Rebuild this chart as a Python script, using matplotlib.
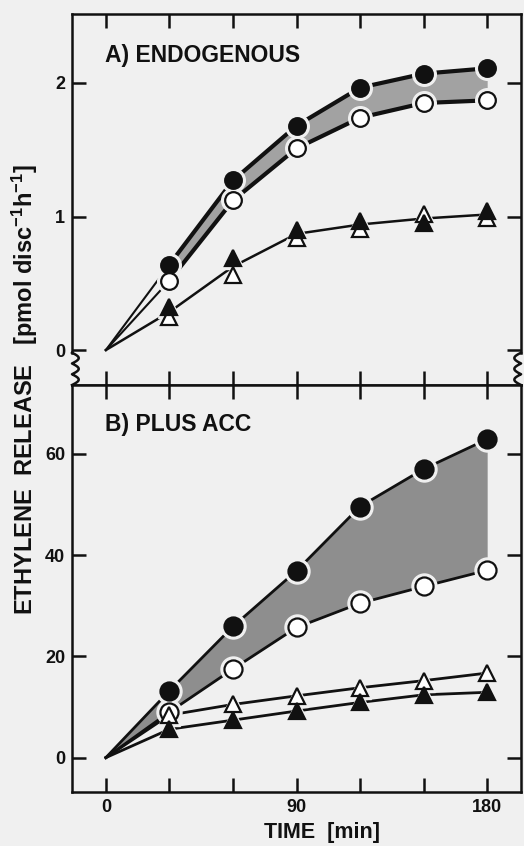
import numpy as np
import matplotlib.pyplot as plt

plt.rcParams['font.family'] = ['Liberation Sans', 'DejaVu Sans']
plt.rcParams['font.weight'] = 'bold'
plt.rcParams['mathtext.fontset'] = 'custom'
plt.rcParams['mathtext.rm'] = 'Liberation Sans:bold'
plt.rcParams['mathtext.default'] = 'rm'

t = [0, 30, 60, 90, 120, 150, 180]
a_fill_circ = [0, 0.64, 1.27, 1.68, 1.965, 2.07, 2.11]
a_open_circ = [0, 0.52, 1.12, 1.51, 1.74, 1.85, 1.87]
a_fill_tri = [0, 0.32, 0.69, 0.90, 0.97, 0.95, 1.04]
a_open_tri = [0, 0.25, 0.56, 0.84, 0.91, 1.02, 0.99]
b_fill_circ = [0, 13.2, 25.9, 36.9, 49.6, 57.0, 62.9]
b_open_circ = [0, 9.0, 17.5, 25.7, 30.5, 33.8, 37.0]
b_open_tri = [0, 8.4, 10.5, 12.2, 13.8, 15.2, 16.7]
b_fill_tri = [0, 5.6, 7.4, 9.2, 10.9, 12.4, 12.9]

bg = '#f0f0f0'
fig = plt.figure(figsize=(5.24, 8.46), dpi=100, facecolor=bg)
ax_a = fig.add_axes([0.1374, 0.5449, 0.857, 0.4386], facecolor=bg)
ax_b = fig.add_axes([0.1374, 0.0638, 0.857, 0.4811], facecolor=bg)


def markers(ax, y, marker, filled, ms):
    ax.plot(t[1:], y[1:], ls='none', marker=marker, ms=ms + 5, mfc=bg, mec=bg, zorder=3)
    ax.plot(t[1:], y[1:], ls='none', marker=marker, ms=ms,
            mfc='#111111' if filled else 'white', mec='#111111', mew=1.6, zorder=4)


# A) endogen
ax_a.fill_between(t[1:], a_open_circ[1:], a_fill_circ[1:], color='#a2a2a2', lw=0, zorder=1)
ax_a.plot(t[:2], a_fill_circ[:2], color='#111111', lw=1.5, zorder=2)
ax_a.plot(t[:2], a_open_circ[:2], color='#111111', lw=1.5, zorder=2)
ax_a.plot(t[1:], a_fill_circ[1:], color='#111111', lw=3, zorder=2)
ax_a.plot(t[1:], a_open_circ[1:], color='#111111', lw=3, zorder=2)
tri_mean = (np.array(a_fill_tri) + np.array(a_open_tri)) / 2
ax_a.plot(t, tri_mean, color='#111111', lw=1.8, zorder=2)
markers(ax_a, a_fill_circ, 'o', True, 12)
markers(ax_a, a_open_circ, 'o', False, 12)
markers(ax_a, a_open_tri, '^', False, 11)
markers(ax_a, a_fill_tri, '^', True, 11)

# B) mit ACC
ax_b.fill_between(t, b_open_circ, b_fill_circ, color='#8e8e8e', lw=0, zorder=1)
for y in [b_fill_circ, b_open_circ, b_open_tri, b_fill_tri]:
    ax_b.plot(t, y, color='#111111', lw=2, zorder=2)
markers(ax_b, b_fill_circ, 'o', True, 13)
markers(ax_b, b_open_circ, 'o', False, 13)
markers(ax_b, b_open_tri, '^', False, 11)
markers(ax_b, b_fill_tri, '^', True, 11)

ax_a.set_xlim(-16, 196)
ax_b.set_xlim(-16, 196)
ax_a.set_ylim(-0.262, 2.517)
ax_b.set_ylim(-6.8, 73.6)
ax_a.set_yticks([0, 1, 2])
ax_b.set_yticks([0, 20, 40, 60])
for ax in [ax_a, ax_b]:
    ax.set_xticks([0, 90, 180])
    ax.set_xticks([30, 60, 120, 150], minor=True)
    ax.tick_params(which='both', direction='in', length=10, width=1.8,
                   top=True, right=True, labelsize=13, pad=5, colors='#111111')
    for s in ax.spines.values():
        s.set_linewidth(1.8)
        s.set_color('#111111')
ax_a.tick_params(labelbottom=False)

# Achsenbruch an Panel A
ax_a.spines['left'].set_bounds(-0.02, 2.517)
ax_a.spines['right'].set_bounds(-0.02, 2.517)
yy = np.linspace(-0.02, -0.262, 40)
wig = 0.015 * np.sin(np.linspace(0, 3 * np.pi, 40))
ax_a.plot(np.abs(wig), yy, color='#111111', lw=1.8, transform=ax_a.get_yaxis_transform(), clip_on=False)
ax_a.plot(1 - np.abs(wig), yy, color='#111111', lw=1.8, transform=ax_a.get_yaxis_transform(), clip_on=False)

ax_a.text(0.0735, 0.889, 'A) ENDOGENOUS', transform=ax_a.transAxes, fontsize=16.5, va='center', color='#111111')
ax_b.text(0.0735, 0.902, 'B) PLUS ACC', transform=ax_b.transAxes, fontsize=16.5, va='center', color='#111111')

fig.text(0.048, 0.540, r'ETHYLENE  RELEASE   [pmol disc$^{-1}$h$^{-1}$]', rotation=90,
         ha='center', va='center', fontsize=17, color='#111111')
fig.text(0.615, 0.003, 'TIME  [min]', ha='center', va='bottom', fontsize=15.5, color='#111111')

fig.savefig('out.png', dpi=100, facecolor=bg)
